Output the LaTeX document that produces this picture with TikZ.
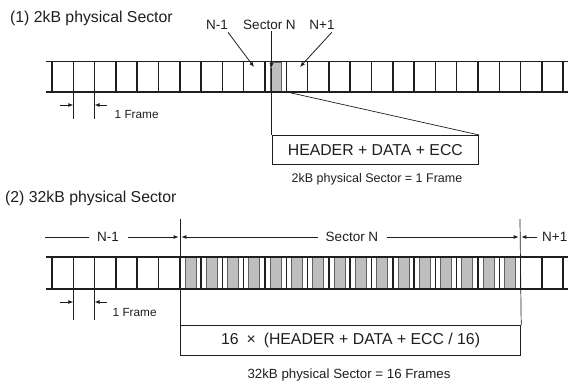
\documentclass[tikz,border=0pt]{standalone}
\usepackage{fontspec}
\setmainfont{Liberation Sans}
\usetikzlibrary{arrows.meta}
\definecolor{ink}{HTML}{1E1E1E}
\definecolor{cellgrey}{HTML}{BEBEBE}
\begin{document}
\begin{tikzpicture}[x=1pt,y=-1pt,
  barline/.style={line width=1.5pt, draw=ink},
  thinline/.style={line width=0.7pt, draw=ink},
  leadarrow/.style={line width=0.8pt, draw=ink, -{Latex[length=5pt,width=4pt]}},
  gcell/.style={fill=cellgrey, draw=ink!70, line width=0.5pt},
  lbl/.style={inner sep=0pt, text=ink},
  headfont/.style={font=\fontsize{15.8}{18}\selectfont},
  midfont/.style={font=\fontsize{13.5}{16}\selectfont},
  smallfont/.style={font=\fontsize{11.8}{14}\selectfont},
  capfont/.style={font=\fontsize{12.5}{15}\selectfont},
  capbigfont/.style={font=\fontsize{13.3}{16}\selectfont},
  boxfont/.style={font=\fontsize{15.8}{18}\selectfont},
  tbox/.style={draw=ink, line width=1.2pt, inner sep=0pt, text=ink, anchor=north west}]
\useasboundingbox (0,0) rectangle (568,383);

% ---------- Part 1 ----------
\node[lbl, headfont, anchor=west] (h1) at (10,18) {(1) 2kB physical Sector};

% grey frame (sector N)
\filldraw[gcell] (270.5,62) rectangle (281,91.5);
% bar
\foreach \k in {0,...,24}
  \draw[barline] ({52+21.3*\k},61.5) -- ({52+21.3*\k},92);
\draw[barline] (46,61.5) -- (568,61.5);
\draw[barline] (46,92) -- (568,92);

% labels
\node[lbl, midfont] (nm1) at (217,24.5) {N-1};
\node[lbl, midfont] (secN) at (269.5,24.5) {Sector N};
\node[lbl, midfont] (np1) at (322,24.5) {N+1};

\coordinate (nm1tip) at (254,67);
\coordinate (sNtop) at (271.5,31);
\coordinate (sNtip) at (271.5,68);
\coordinate (np1tip) at (300,67);
\coordinate (cellbr) at (286.9,92);

\draw[leadarrow] (nm1.south east) ++(0,3) -- (nm1tip);
\draw[leadarrow] (np1.south east) ++(-3,3) -- (np1tip);
\draw[leadarrow] (sNtop) -- (sNtip);

\node[tbox, boxfont, minimum width=206.5pt, minimum height=29pt] (box1) at (271.5,135) {HEADER + DATA + ECC};
\draw[thinline] (sNtip) -- (box1.north west);
\draw[thinline] (cellbr) -- (box1.north east);
\node[lbl, capfont] (cap1) at (377,179) {2kB physical Sector = 1 Frame};

% 1 Frame dimension (part 1)
\coordinate (f1a) at (73.3,92);  \coordinate (f1ae) at (73.3,119);
\coordinate (f1b) at (94.6,92);  \coordinate (f1be) at (94.6,119);
\draw[thinline] (f1a) -- (f1ae);
\draw[thinline] (f1b) -- (f1be);
\coordinate (d1l) at (60,105);   \coordinate (d1la) at (73.3,105);
\coordinate (d1r) at (107,105);  \coordinate (d1ra) at (94.6,105);
\draw[leadarrow] (d1l) -- (d1la);
\draw[leadarrow] (d1r) -- (d1ra);
\node[lbl, smallfont, anchor=west] (fr1) at (114.5,114.5) {1 Frame};

% ---------- Part 2 ----------
\node[lbl, headfont, anchor=west] (h2) at (5,198) {(2) 32kB physical Sector};

\foreach \j in {0,...,15}
  \filldraw[gcell] ({179.8+21.3*\j+5},257.5) rectangle ({179.8+21.3*\j+16},288.5);
\foreach \k in {0,...,24}
  \draw[barline] ({52+21.3*\k},257) -- ({52+21.3*\k},289);
\draw[barline] (46,257) -- (568,257);
\draw[barline] (46,289) -- (568,289);

\node[tbox, boxfont, minimum width=340pt, minimum height=30pt] (box2) at (180,325) {16\enspace ×\enspace (HEADER + DATA + ECC / 16)};
\coordinate (sLtop) at (180,219);
\coordinate (sRtop) at (520,219);
\draw[thinline] (sLtop) -- (box2.north west);
\draw[thinline] (sRtop) -- (box2.north east);
\node[lbl, capbigfont] (cap2) at (349,375) {32kB physical Sector = 16 Frames};

% sector dimension line
\node[lbl, midfont] (dnm1) at (108,237) {N-1};
\node[lbl, midfont] (dsec) at (352,237) {Sector N};
\node[lbl, midfont, anchor=east] (dnp1) at (567.5,237) {N+1};
\coordinate (q0) at (45,237);
\coordinate (q1) at (128,237);
\coordinate (q1a) at (178.6,237);
\coordinate (q2) at (318,237);
\coordinate (q2a) at (181.4,237);
\coordinate (q3) at (387,237);
\coordinate (q3a) at (518.6,237);
\coordinate (q4) at (537,237);
\coordinate (q4a) at (521.4,237);
\draw[thinline] (q0) -- ([xshift=-8pt]dnm1.west);
\draw[leadarrow] (q1) -- (q1a);
\draw[leadarrow] (q2) -- (q2a);
\draw[leadarrow] (q3) -- (q3a);
\draw[leadarrow] (q4) -- (q4a);

% 1 Frame dimension (part 2)
\coordinate (f2a) at (73.3,289);  \coordinate (f2ae) at (73.3,320);
\coordinate (f2b) at (94.6,289);  \coordinate (f2be) at (94.6,320);
\draw[thinline] (f2a) -- (f2ae);
\draw[thinline] (f2b) -- (f2be);
\coordinate (d2l) at (60,302);   \coordinate (d2la) at (73.3,302);
\coordinate (d2r) at (107,302);  \coordinate (d2ra) at (94.6,302);
\draw[leadarrow] (d2l) -- (d2la);
\draw[leadarrow] (d2r) -- (d2ra);
\node[lbl, smallfont, anchor=west] (fr2) at (112.5,312) {1 Frame};
\end{tikzpicture}
\end{document}
